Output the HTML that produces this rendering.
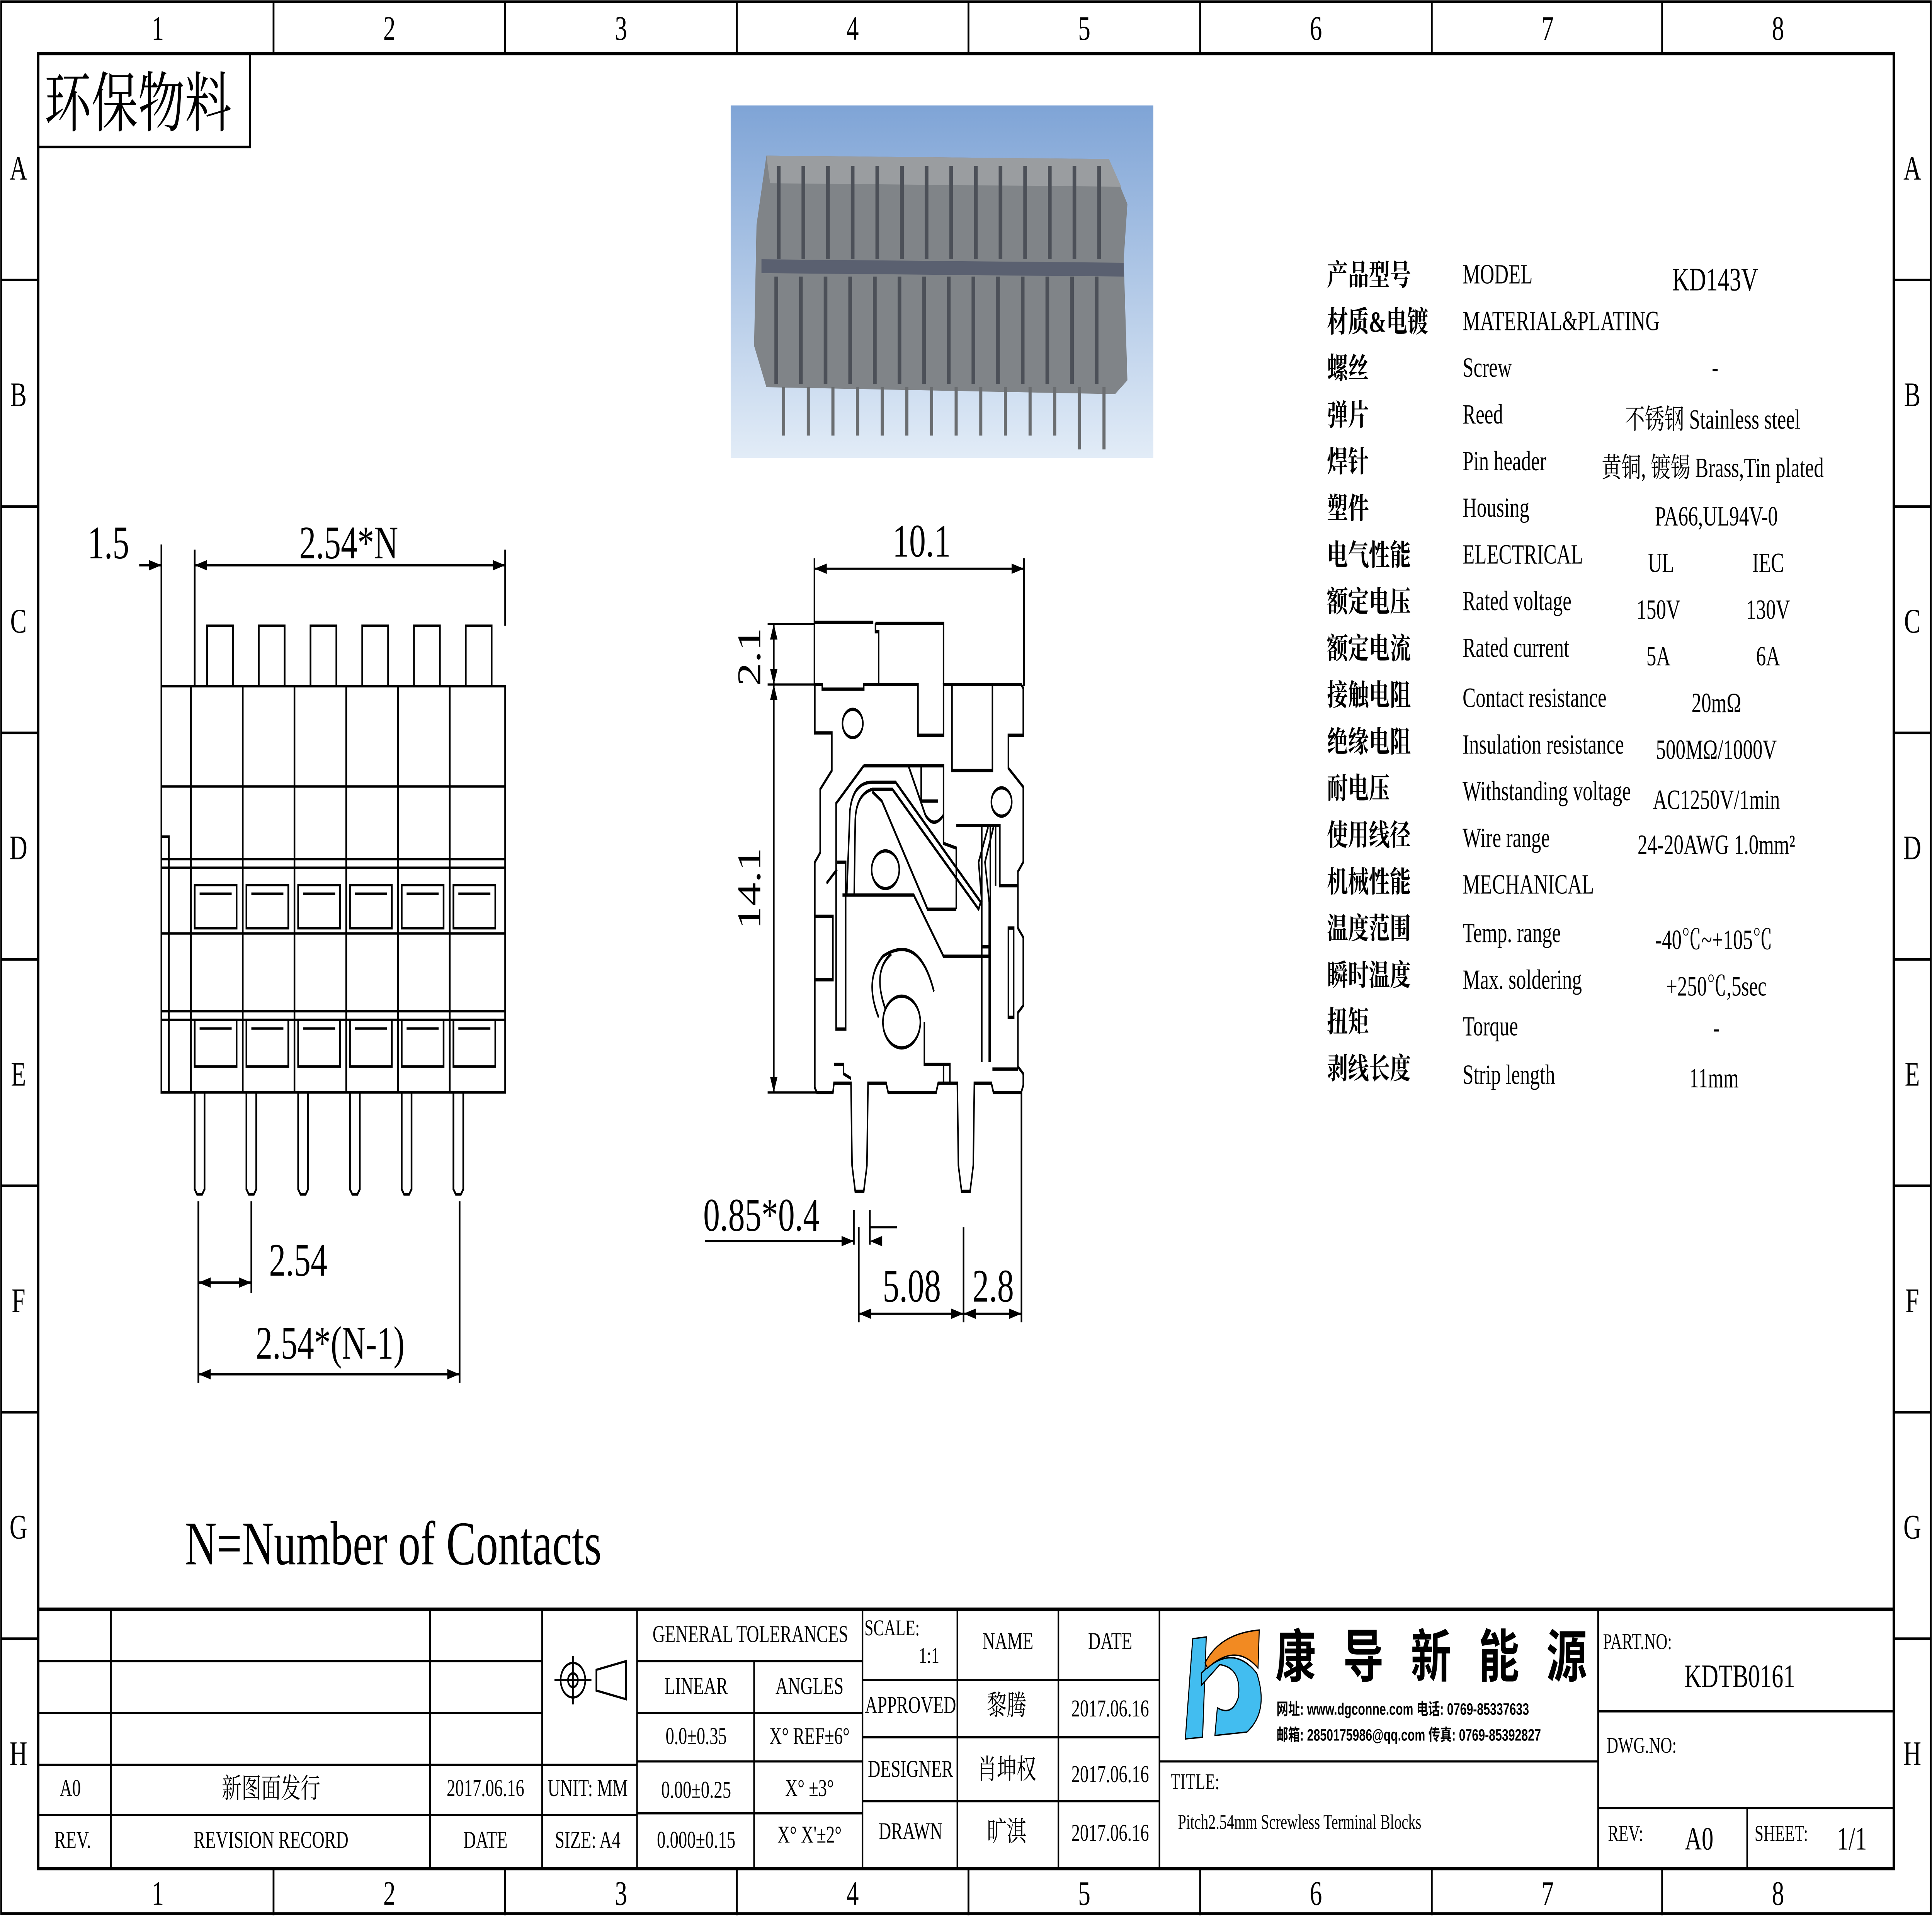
<!DOCTYPE html>
<html><head><meta charset="utf-8"><style>
html,body{margin:0;padding:0;background:#fff;overflow:hidden;width:100%;height:100%}
svg{display:block;position:absolute;left:0;top:0;width:100vw;height:100vh}
text{font-family:"Liberation Serif","Noto Serif CJK SC",serif;fill:#000}
.cj{font-family:"Liberation Sans","Noto Sans CJK SC",sans-serif;font-weight:bold}
.sp{font-family:"Liberation Serif","Noto Sans CJK SC",serif;font-size:17px;font-weight:bold}
</style></head><body>
<svg viewBox="0 0 1568 1109" preserveAspectRatio="none" xmlns="http://www.w3.org/2000/svg">
<defs><linearGradient id="g" x1="0" y1="0" x2="0" y2="1"><stop offset="0" stop-color="#7fa4d6"/><stop offset="1" stop-color="#e2ecf7"/></linearGradient></defs>
<g fill="none" stroke="#000" stroke-width="1.5">
<rect x="1" y="1" width="1566" height="1106"/>
<rect x="31" y="31" width="1506" height="1050" stroke-width="2"/>
<path d="M222,1V31M410,1V31M598,1V31M786,1V31M974,1V31M1162,1V31M1349,1V31M222,1081V1108M410,1081V1108M598,1081V1108M786,1081V1108M974,1081V1108M1162,1081V1108M1349,1081V1108"/>
<path d="M1,162H31M1,293H31M1,424H31M1,555H31M1,686H31M1,817H31M1,948H31M1537,162H1567M1537,293H1567M1537,424H1567M1537,555H1567M1537,686H1567M1537,817H1567M1537,948H1567"/>
<rect x="31" y="31" width="172" height="54"/>
</g>
<g font-size="20" text-anchor="middle">
<text x="128" y="23">1</text><text x="316" y="23">2</text><text x="504" y="23">3</text><text x="692" y="23">4</text><text x="880" y="23">5</text><text x="1068" y="23">6</text><text x="1256" y="23">7</text><text x="1443" y="23">8</text>
<text x="128" y="1102">1</text><text x="316" y="1102">2</text><text x="504" y="1102">3</text><text x="692" y="1102">4</text><text x="880" y="1102">5</text><text x="1068" y="1102">6</text><text x="1256" y="1102">7</text><text x="1443" y="1102">8</text>
<text x="15" y="104">A</text><text x="15" y="235">B</text><text x="15" y="366">C</text><text x="15" y="497">D</text><text x="15" y="628">E</text><text x="15" y="759">F</text><text x="15" y="890">G</text><text x="15" y="1021">H</text>
<text x="1552" y="104">A</text><text x="1552" y="235">B</text><text x="1552" y="366">C</text><text x="1552" y="497">D</text><text x="1552" y="628">E</text><text x="1552" y="759">F</text><text x="1552" y="890">G</text><text x="1552" y="1021">H</text>
</g>
<text x="36" y="73" font-size="38">环保物料</text>

<!-- photo -->
<rect x="593" y="61" width="343" height="204" fill="url(#g)"/>
<g>
<path d="M622,90 L900,92 L915,118 L912,150 L915,220 L905,228 L622,224 L612,200 L614,130 Z" fill="#808488"/>
<path d="M622,90 L900,92 L910,108 L625,106 Z" fill="#9a9da0"/>
<path d="M618,150 L912,152 L912,160 L618,158 Z" fill="#5a6070"/>
<g stroke="#4c5058" stroke-width="3">
<path d="M630,160V222M650,160V222M670,160V222M690,160V222M710,160V222M730,160V222M750,160V222M770,160V222M790,160V222M810,160V222M830,160V222M850,160V222M870,160V222M890,160V222"/>
<path d="M632,96V150M652,96V150M672,96V150M692,96V150M712,96V150M732,96V150M752,96V150M772,96V150M792,96V150M812,96V150M832,96V150M852,96V150M872,96V150M892,96V150"/>
</g>
<g stroke="#6a6d70" stroke-width="2.5">
<path d="M636,224V252M656,224V252M676,224V252M696,224V252M716,224V252M736,224V252M756,224V252M776,224V252M796,224V252M816,224V252M836,224V252M856,224V252M876,224V260M896,224V260"/>
</g>
</g>

<!-- spec table -->
<g class="sp">
<text x="1077" y="165">产品型号</text><text x="1077" y="192">材质&amp;电镀</text><text x="1077" y="219">螺丝</text><text x="1077" y="246">弹片</text><text x="1077" y="273">焊针</text><text x="1077" y="300">塑件</text><text x="1077" y="327">电气性能</text><text x="1077" y="354">额定电压</text><text x="1077" y="381">额定电流</text><text x="1077" y="408">接触电阻</text><text x="1077" y="435">绝缘电阻</text><text x="1077" y="462">耐电压</text><text x="1077" y="489">使用线径</text><text x="1077" y="516">机械性能</text><text x="1077" y="543">温度范围</text><text x="1077" y="570">瞬时温度</text><text x="1077" y="597">扭矩</text><text x="1077" y="624">剥线长度</text>
<g font-weight="normal" font-size="16">
<text x="1187" y="164">MODEL</text><text x="1187" y="191">MATERIAL&amp;PLATING</text><text x="1187" y="218">Screw</text><text x="1187" y="245">Reed</text><text x="1187" y="272">Pin header</text><text x="1187" y="299">Housing</text><text x="1187" y="326">ELECTRICAL</text><text x="1187" y="353">Rated voltage</text><text x="1187" y="380">Rated current</text><text x="1187" y="409">Contact resistance</text><text x="1187" y="436">Insulation resistance</text><text x="1187" y="463">Withstanding voltage</text><text x="1187" y="490">Wire range</text><text x="1187" y="517">MECHANICAL</text><text x="1187" y="545">Temp. range</text><text x="1187" y="572">Max. soldering</text><text x="1187" y="599">Torque</text><text x="1187" y="627">Strip length</text>
<g text-anchor="middle">
<text x="1392" y="168" font-size="19">KD143V</text><text x="1392" y="218">-</text>
<text x="1390" y="248">不锈钢 Stainless steel</text><text x="1390" y="276">黄铜, 镀锡 Brass,Tin plated</text>
<text x="1393" y="304">PA66,UL94V-0</text><text x="1348" y="331">UL</text><text x="1435" y="331">IEC</text>
<text x="1346" y="358">150V</text><text x="1435" y="358">130V</text><text x="1346" y="385">5A</text><text x="1435" y="385">6A</text>
<text x="1393" y="412">20mΩ</text><text x="1393" y="439">500MΩ/1000V</text><text x="1393" y="468">AC1250V/1min</text><text x="1393" y="494">24-20AWG 1.0mm²</text>
<text x="1391" y="549">-40℃~+105℃</text><text x="1393" y="576">+250℃,5sec</text><text x="1393" y="600">-</text><text x="1391" y="629">11mm</text>
</g></g></g>

<!-- front view -->
<g fill="none" stroke="#000" stroke-width="1.4">
<rect x="131" y="397" width="279" height="235"/>
<rect x="131" y="484" width="6" height="148"/>
<path d="M168,397V362H189V397M210,397V362H231V397M252,397V362H273V397M294,397V362H315V397M336,397V362H357V397M378,397V362H399V397"/>
<path d="M155,397V632M197,397V632M239,397V632M281,397V632M323,397V632M365,397V632"/>
<path d="M131,455H410M131,497H410M131,502H410M131,540H410M131,585H410M131,590H410"/>
<path d="M158,512H192V537H158ZM200,512H234V537H200ZM242,512H276V537H242ZM284,512H318V537H284ZM326,512H360V537H326ZM368,512H402V537H368Z"/>
<path d="M158,590H192V617H158ZM200,590H234V617H200ZM242,590H276V617H242ZM284,590H318V617H284ZM326,590H360V617H326ZM368,590H402V617H368Z"/>
<path d="M162,517H188M204,517H230M246,517H272M288,517H314M330,517H356M372,517H398M162,595H188M204,595H230M246,595H272M288,595H314M330,595H356M372,595H398"/>
<path d="M158,632V688L160,691H164L166,688V632M200,632V688L202,691H206L208,688V632M242,632V688L244,691H248L250,688V632M284,632V688L286,691H290L292,688V632M326,632V688L328,691H332L334,688V632M368,632V688L370,691H374L376,688V632"/>
<path d="M131,315V397M158,318V397M410,318V362M113,327H131M158,327H410"/>
<path d="M161,695V800M204,695V748M373,695V800M161,742H204M161,795H373"/>
</g>
<g fill="#000">
<path d="M131,327l-10,-3v6zM158,327l10,-3v6zM410,327l-10,-3v6z"/>
<path d="M161,742l10,-3v6zM204,742l-10,-3v6zM161,795l10,-3v6zM373,795l-10,-3v6z"/>
</g>
<g font-size="27" text-anchor="middle">
<text x="88" y="323">1.5</text><text x="283" y="323">2.54*N</text>
<text x="242" y="738">2.54</text><text x="268" y="786">2.54*(N-1)</text>
</g>
<text x="150" y="905" font-size="36">N=Number of Contacts</text>

<!-- side view -->
<g fill="none" stroke="#000" stroke-width="1.3">
<path d="M661,323V397M831,323V397M661,329H831M623,361H661M623,396H661M623,632H667M628,361V632"/>
<path d="M693,700V720M706,700V720M706,710H728M572,718H693M697,710V765M782,710V765M829,632V765M697,760H829"/>
</g>
<g fill="#000">
<path d="M661,329l10,-3v6zM831,329l-10,-3v6zM628,361l-3,9h6zM628,396l-3,-9h6zM628,396l-3,9h6zM628,632l-3,-9h6zM693,718l-10,-3v6zM706,718l10,-3v6zM697,760l10,-3v6zM782,760l-10,-3v6zM782,760l10,-3v6zM829,760l-10,-3v6z"/>
</g>
<g transform="translate(580.2,311.1) scale(0.1726,0.272)" fill="none" stroke="#000" stroke-width="7">
<path d="M470,180H745M755,182H1075V312M755,182V200H770V312"/>
<path d="M470,312H505V322H700V312H955V420H1075V312H1440L1450,320V420H1380V490L1450,530V690L1425,710V830L1450,850V995L1425,1010V1125L1450,1140V1165L1440,1180H1310L1300,1160H1220L1215,1335L1200,1390H1160L1145,1335L1140,1160H1050L1040,1180H815L805,1160H720L715,1335L700,1390H660L645,1335L640,1160H560L555,1180H480L470,1170V690L495,670V535L550,495V415H470Z"/>
<path d="M1115,312V495H1305V312"/>
<path d="M700,485H1075V650L1135,660V790M700,485L570,565V1045H615V690L575,690M1135,612H1340V740H1425M1320,740V612M1255,612V1115M1295,612V1115M1255,870H1290V890H1255"/>
<path d="M600,760H935L1075,890H1255M740,540L785,560L1000,790H1135"/>
<path d="M620,760L635,580Q650,520 740,520H850L1250,775L1240,790L835,535H740Q665,545 660,600L655,760"/>
<path d="M1310,615L1270,690L1290,775V1115M1285,615L1240,690L1255,775"/>
<path d="M470,805H555V940H470M525,735L575,705M1380,830H1405V1020H1380Z"/>
<path d="M910,485L990,590Q1030,620 1075,590M970,485V560H1050"/>
<path d="M985,1030V1120H1105V1160M1075,1120V1160M560,1120H605V1140L640,1150M1305,1130H1425"/>
<ellipse cx="648" cy="395" rx="48" ry="30"/>
<ellipse cx="1348" cy="562" rx="48" ry="30"/>
<ellipse cx="802" cy="706" rx="65" ry="40"/>
<ellipse cx="878" cy="1030" rx="88" ry="55"/>
<path d="M770,1020Q700,940 790,890Q960,840 1030,965M800,1000Q740,920 830,885"/>
</g>
<g font-size="27" text-anchor="middle">
<text x="748" y="322">10.1</text>
<text x="617" y="380" transform="rotate(-90 617 380)">2.1</text>
<text x="617" y="514" transform="rotate(-90 617 514)">14.1</text>
<text x="618" y="712">0.85*0.4</text>
<text x="740" y="753">5.08</text><text x="806" y="753">2.8</text>
</g>

<!-- title block -->
<g fill="none" stroke="#000" stroke-width="1.3">
<path d="M31,931H1537" stroke-width="2"/>
<path d="M90,931V1081M349,931V1081M440,931V1081M517,931V1081M700,931V1081M777,931V1081M859,931V1081M941,931V1081M1297,931V1081"/>
<path d="M31,961H440M31,991H440M31,1021H517M31,1050H517"/>
<path d="M517,961H700M517,991H700M517,1019H700M517,1049H700M612,961V1081"/>
<path d="M700,972H941M700,1005H941M700,1042H941"/>
<path d="M941,1019H1297M1297,990H1537M1297,1046H1537M1418,1046V1081"/>
<circle cx="465" cy="972" r="10"/><circle cx="465" cy="972" r="4"/>
<path d="M450,972H480M465,958V986M484,966L508,961V983L484,978Z"/>
</g>
<g font-size="14" text-anchor="middle">
<text x="57" y="1039">A0</text><text x="220" y="1040" font-size="16">新图面发行</text><text x="394" y="1039">2017.06.16</text>
<text x="59" y="1069">REV.</text><text x="220" y="1069">REVISION RECORD</text><text x="394" y="1069">DATE</text>
<text x="477" y="1039">UNIT: MM</text><text x="477" y="1069">SIZE: A4</text>
<text x="609" y="950">GENERAL TOLERANCES</text><text x="565" y="980">LINEAR</text><text x="657" y="980">ANGLES</text>
<text x="565" y="1009">0.0±0.35</text><text x="657" y="1009">X° REF±6°</text>
<text x="565" y="1040">0.00±0.25</text><text x="657" y="1039">X° ±3°</text>
<text x="565" y="1069">0.000±0.15</text><text x="657" y="1066">X° X'±2°</text>
<text x="724" y="946" font-size="13">SCALE:</text><text x="754" y="962" font-size="13">1:1</text>
<text x="739" y="991">APPROVED</text><text x="739" y="1028">DESIGNER</text><text x="739" y="1064">DRAWN</text>
<text x="818" y="954">NAME</text><text x="817" y="992" font-size="16">黎腾</text><text x="817" y="1029" font-size="16">肖坤权</text><text x="817" y="1065" font-size="16">旷淇</text>
<text x="901" y="954">DATE</text><text x="901" y="993">2017.06.16</text><text x="901" y="1031">2017.06.16</text><text x="901" y="1065">2017.06.16</text>
</g>
<g font-size="13">
<text x="950" y="1035">TITLE:</text><text x="956" y="1058" font-size="12">Pitch2.54mm Screwless Terminal Blocks</text>
<text x="1301" y="954">PART.NO:</text><text x="1304" y="1014">DWG.NO:</text>
<text x="1305" y="1065">REV:</text><text x="1424" y="1065">SHEET:</text>
</g>
<text x="1412" y="976" font-size="19" text-anchor="middle">KDTB0161</text>
<text x="1379" y="1070" font-size="19" text-anchor="middle">A0</text>
<text x="1503" y="1070" font-size="19" text-anchor="middle">1/1</text>
<path d="M968,948L979,947L976,1005L962,1006Z" fill="#42bdf0" stroke="#000" stroke-width="0.8"/>
<path d="M975,968Q1000,950 1020,968Q1030,990 1012,1002L986,1004L988,988Q1000,993 1005,982Q1008,965 990,963L975,975Z" fill="#42bdf0" stroke="#000" stroke-width="0.8"/>
<path d="M978,962Q990,945 1022,943L1021,965Q1003,950 980,965Z" fill="#f28a22" stroke="#000" stroke-width="0.8"/>
<text x="1035" y="970" class="cj" font-size="33" letter-spacing="22">康导新能源</text>
<text x="1036" y="992" class="cj" font-size="9.5">网址: www.dgconne.com    电话: 0769-85337633</text>
<text x="1036" y="1007" class="cj" font-size="9.5">邮箱: 2850175986@qq.com 传真: 0769-85392827</text>
</svg>
</body></html>
